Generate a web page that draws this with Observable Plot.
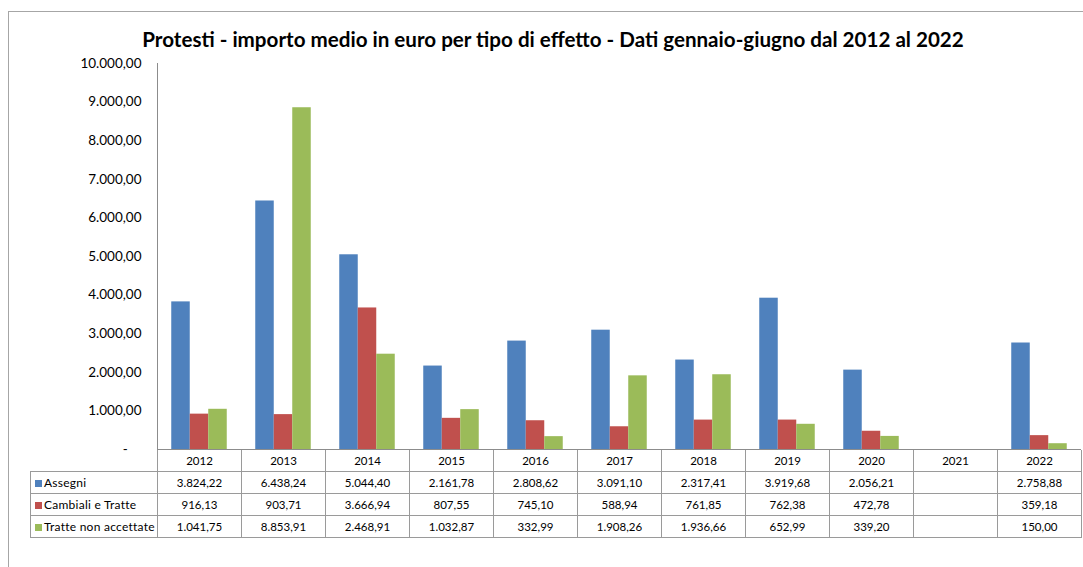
<!DOCTYPE html>
<html>
<head>
<meta charset="utf-8">
<script src="https://cdn.jsdelivr.net/npm/d3@7"></script>
<script src="https://cdn.jsdelivr.net/npm/@observablehq/plot@0.6"></script>
<style>
  html, body { margin: 0; padding: 0; background: #fff; }
  #wrap {
    position: relative; margin-left: 8px; margin-top: 11px;
    width: 1075px; height: 556px;
    border-left: 1px solid #a6a6a6; border-top: 1px solid #a6a6a6;
    font-family: Lato, "Open Sans", sans-serif; color: #000; overflow: hidden;
  }
  #title {
    height: 26px; padding-top: 15px; padding-left: 13px;
    text-align: center; font-weight: bold; font-size: 20.6px; line-height: 24px;
    white-space: nowrap;
  }
  #plot svg { display: block; overflow: visible; }
  table {
    margin-left: 21px; border-collapse: collapse; table-layout: fixed;
    width: 1051px; font-size: 11.5px;
  }
  td { border: 1px solid #9a9a9a; text-align: center; padding: 0; height: 21px; white-space: nowrap; }
  tr.head td { height: 21px; border-top: none; }
  tr.head td.blank { border: none; }
  td.leg { text-align: left; padding-left: 4px; font-size: 12px; letter-spacing: 0.25px; }
  .sw { display: inline-block; width: 7px; height: 7px; margin-right: 2px; vertical-align: 0px; }
</style>
</head>
<body>
<div id="wrap">
  <div id="title"></div>
  <div id="plot"></div>
  <div id="tbl"></div>
</div>
<script>
const titleText = "Protesti - importo medio in euro per tipo di effetto - Dati gennaio-giugno dal 2012 al 2022";
const years = ["2012","2013","2014","2015","2016","2017","2018","2019","2020","2021","2022"];
const seriesNames = ["Assegni","Cambiali e Tratte","Tratte non accettate"];
const seriesColors = ["#4F81BD","#C0504D","#9BBB59"];
const assegni  = [3824.22, 6438.24, 5044.40, 2161.78, 2808.62, 3091.10, 2317.41, 3919.68, 2056.21, null, 2758.88];
const cambiali = [916.13, 903.71, 3666.94, 807.55, 745.10, 588.94, 761.85, 762.38, 472.78, null, 359.18];
const tratte   = [1041.75, 8853.91, 2468.91, 1032.87, 332.99, 1908.26, 1936.66, 652.99, 339.20, null, 150.00];
const yTicks = [0,1000,2000,3000,4000,5000,6000,7000,8000,9000,10000];

const seriesValues = [assegni, cambiali, tratte];
const it = d3.formatLocale({decimal: ",", thousands: ".", grouping: [3], currency: ["€", ""]});
const fmt = it.format(",.2f");

document.getElementById("title").textContent = titleText;

// layout constants (styles only)
const W = 1075, mLeft = 148, mRight = 3;
const step = (W - mLeft - mRight) / years.length;
const barW = 18.5;
const groupOff = (step - 3 * barW) / 2;

const rows = [];
seriesNames.forEach((s, i) => years.forEach((y, j) => {
  if (seriesValues[i][j] != null) rows.push({year: y, series: s, value: seriesValues[i][j]});
}));

const barMarks = seriesNames.map((s, i) =>
  Plot.barY(rows.filter(d => d.series === s), {
    x: "year", y: "value", fill: seriesColors[i],
    insetLeft: groupOff + i * barW,
    insetRight: step - groupOff - (i + 1) * barW
  })
);

const chart = Plot.plot({
  width: W, height: 397,
  marginTop: 10, marginBottom: 1, marginLeft: mLeft, marginRight: mRight,
  style: {fontFamily: "Lato, 'Open Sans', sans-serif", fontSize: "13.5px", color: "#000", background: "transparent"},
  x: {type: "band", domain: years, padding: 0, axis: null},
  y: {domain: [0, 10000], axis: null},
  marks: [
    ...barMarks,
    Plot.axisY({ticks: yTicks, tickSize: 0, tickPadding: 16, label: null,
      tickFormat: d => d === 0 ? "-\u00a0\u00a0\u00a0\u00a0" : fmt(d), fontSize: 13.5}),
    Plot.frame({anchor: "left", stroke: "#8c8c8c"}),
    Plot.ruleY([0], {stroke: "#8c8c8c"})
  ]
});
document.getElementById("plot").appendChild(chart);

// data table below the chart
let html = '<table><colgroup><col style="width:127px">' + years.map(() => '<col style="width:84px">').join("") + '</colgroup>';
html += '<tr class="head"><td class="blank"></td>' + years.map(y => `<td>${y}</td>`).join("") + '</tr>';
seriesNames.forEach((s, i) => {
  html += `<tr><td class="leg"><span class="sw" style="background:${seriesColors[i]}"></span>${s}</td>` +
    seriesValues[i].map(v => `<td>${v == null ? "" : fmt(v)}</td>`).join("") + '</tr>';
});
html += '</table>';
document.getElementById("tbl").innerHTML = html;
</script>
</body>
</html>
